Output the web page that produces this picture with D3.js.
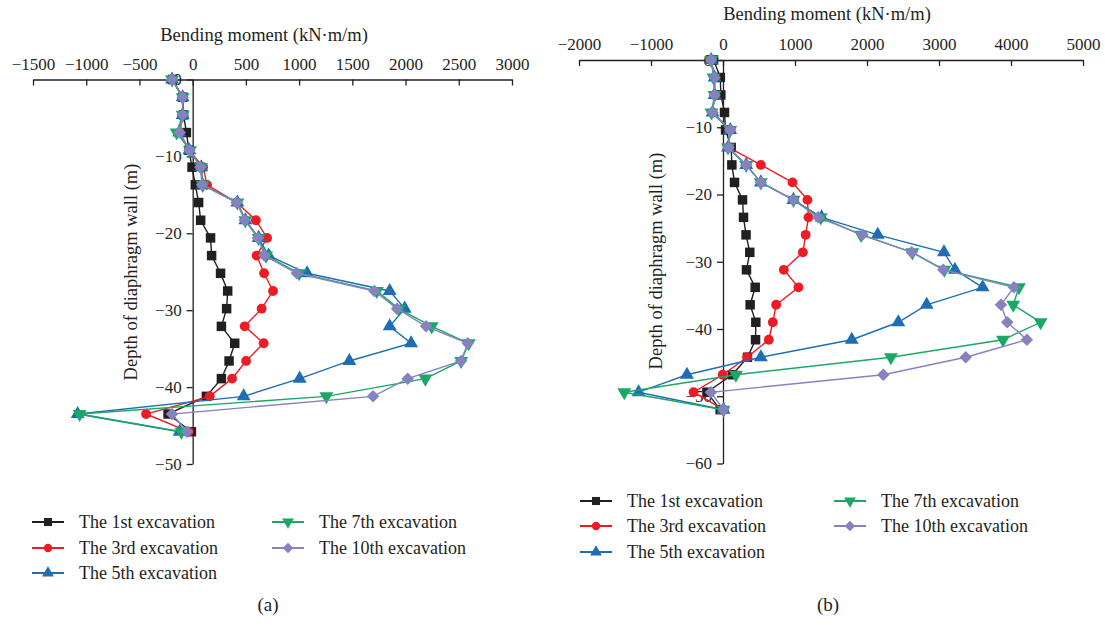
<!DOCTYPE html>
<html>
<head>
<meta charset="utf-8">
<script src="https://cdn.jsdelivr.net/npm/d3@7"></script>
<style>
  html, body { margin: 0; padding: 0; background: #fff; }
  svg text { font-family: "Liberation Serif", "DejaVu Serif", serif; fill: #231f20; }
</style>
</head>
<body>
<svg id="chart" width="1105" height="625"></svg>
<script>
// ---------- Data ----------
const seriesNames = ["The 1st excavation", "The 3rd excavation", "The 5th excavation", "The 7th excavation", "The 10th excavation"];
const seriesColors = ["#231f20", "#ed1c24", "#1f6db5", "#1aa866", "#8682c0"];
const seriesSymbols = ["square", "circle", "triangleUp", "triangleDown", "diamond"];

// Panel (a)
const depthA = [0, -2.3, -4.6, -6.9, -9.2, -11.4, -13.7, -16.0, -18.3, -20.6, -22.9, -25.2, -27.5, -29.8, -32.1, -34.3, -36.6, -38.9, -41.2, -43.5, -45.8];
const a1st  = [-190, -92, -85, -59, -35, -6, 25, 56, 75, 168, 178, 262, 329, 319, 270, 395, 342, 270, 129, -231, -12];
const a3rd  = [-194, -94, -94, -122, -31, 98, 135, 413, 594, 699, 601, 671, 755, 648, 489, 667, 502, 370, 160, -438, -38];
const a5th  = [-194, -94, -94, -125, -31, 80, 94, 420, 495, 620, 714, 1075, 1851, 1992, 1851, 2052, 1472, 1005, 479, -1080, -122];
const a7th  = [-194, -94, -94, -150, -25, 80, 94, 420, 495, 620, 690, 1000, 1730, 1935, 2246, 2593, 2522, 2186, 1256, -1062, -106];
const a10th = [-194, -94, -94, -122, -31, 72, 88, 413, 489, 613, 674, 978, 1707, 1920, 2193, 2584, 2522, 2020, 1695, -194, -53];
const xTicksA = [-1500, -1000, -500, 0, 500, 1000, 1500, 2000, 2500, 3000];
const yTicksA = [0, -10, -20, -30, -40, -50];

// Panel (b)
const depthB = [0, -2.6, -5.2, -7.8, -10.4, -13.0, -15.6, -18.2, -20.8, -23.4, -26.0, -28.6, -31.2, -33.8, -36.4, -39.0, -41.6, -44.2, -46.8, -49.4, -52.0];
const b1st  = [-131, -37, -30, 21, 35, 114, 123, 160, 271, 285, 320, 372, 326, 447, 377, 456, 452, 340, 130, -223, -39];
const b3rd  = [-164, -117, -117, -145, 100, 77, 526, 965, 1173, 1187, 1148, 1109, 845, 1048, 738, 692, 636, 335, -4, -409, 7];
const b5th  = [-164, -117, -117, -145, 100, 70, 322, 526, 978, 1370, 2149, 3069, 3221, 3606, 2829, 2435, 1788, 526, -501, -1172, 7];
const b7th  = [-164, -131, -117, -160, 100, 70, 322, 526, 978, 1358, 1918, 2630, 3074, 4110, 4031, 4411, 3889, 2332, 179, -1371, 7];
const b10th = [-164, -117, -117, -145, 100, 77, 322, 526, 978, 1321, 1938, 2621, 3060, 4041, 3860, 3948, 4221, 3372, 2227, -168, 7];
const xTicksB = [-2000, -1000, 0, 1000, 2000, 3000, 4000, 5000];
const yTicksB = [0, -10, -20, -30, -40, -50, -60];

const xTitle = "Bending moment (kN\u00b7m/m)";
const yTitle = "Depth of diaphragm wall (m)";

// ---------- Drawing ----------
const svg = d3.select("#chart");
const TICK_FS = 17;
const TITLE_FS = 18.5;
const LEG_FS = 18;
const fmt = d3.format("d");

function symbolPath(kind) {
  if (kind === "square") return { d: d3.symbol(d3.symbolSquare, 90)(), rot: 0 };
  if (kind === "circle") return { d: d3.symbol(d3.symbolCircle, 76)(), rot: 0 };
  if (kind === "triangleUp") return { d: d3.symbol(d3.symbolTriangle, 84)(), rot: 0 };
  if (kind === "triangleDown") return { d: d3.symbol(d3.symbolTriangle, 84)(), rot: 180 };
  return { d: d3.symbol(d3.symbolSquare, 78)(), rot: 45 };
}

function drawPanel(cfg) {
  const x = d3.scaleLinear().domain(cfg.xDomain).range(cfg.xRange);
  const y = d3.scaleLinear().domain(cfg.yDomain).range(cfg.yRange);
  const g = svg.append("g");

  // X axis (top)
  const xa = g.append("g")
    .attr("transform", `translate(0,${y(0)})`)
    .call(d3.axisTop(x).tickValues(cfg.xTicks).tickFormat(fmt)
      .tickSizeInner(-6).tickSizeOuter(0).tickPadding(cfg.xPad));
  xa.selectAll("text").style("font-size", TICK_FS + "px").style("font-family", "Liberation Serif, serif");
  xa.selectAll("path, line").attr("stroke", "#231f20").attr("stroke-width", 1.3);

  // Y axis
  const ya = g.append("g")
    .attr("transform", `translate(${x(0)},0)`)
    .call(d3.axisLeft(y).tickValues(cfg.yTicks).tickFormat(fmt)
      .tickSizeInner(6).tickSizeOuter(0).tickPadding(5));
  ya.selectAll("text").style("font-size", TICK_FS + "px").style("font-family", "Liberation Serif, serif");
  ya.selectAll("path, line").attr("stroke", "#231f20").attr("stroke-width", 1.3);

  // Titles
  g.append("text").attr("x", cfg.xTitlePos[0]).attr("y", cfg.xTitlePos[1])
    .attr("text-anchor", "middle").style("font-size", TITLE_FS + "px").text(xTitle);
  g.append("text").attr("transform", `translate(${cfg.yTitlePos[0]},${cfg.yTitlePos[1]}) rotate(-90)`)
    .attr("text-anchor", "middle").style("font-size", TITLE_FS + "px").text(yTitle);

  // Series
  cfg.series.forEach((vals, si) => {
    const pts = vals.map((v, i) => [v, cfg.depth[i]]);
    const line = d3.line().x(d => x(d[0])).y(d => y(d[1]));
    g.append("path").attr("d", line(pts)).attr("fill", "none")
      .attr("stroke", seriesColors[si]).attr("stroke-width", 1.4);
    const sp = symbolPath(seriesSymbols[si]);
    g.append("g").selectAll("path").data(pts).join("path")
      .attr("d", sp.d)
      .attr("transform", d => `translate(${x(d[0])},${y(d[1])}) rotate(${sp.rot})`)
      .attr("fill", seriesColors[si]);
  });

  // Legend
  cfg.legendPos.forEach((p, si) => {
    const lg = g.append("g").attr("transform", `translate(${p[0]},${p[1]})`);
    lg.append("line").attr("x1", 0).attr("x2", 32).attr("y1", 0).attr("y2", 0)
      .attr("stroke", seriesColors[si]).attr("stroke-width", 2);
    const sp = symbolPath(seriesSymbols[si]);
    lg.append("path").attr("d", sp.d).attr("transform", `translate(16,0) rotate(${sp.rot}) scale(0.85)`)
      .attr("fill", seriesColors[si]);
    lg.append("text").attr("x", 47).attr("y", 0).attr("dy", "0.33em")
      .style("font-size", LEG_FS + "px").text(seriesNames[si]);
  });

  svg.append("text").attr("x", cfg.labelPos[0]).attr("y", cfg.labelPos[1])
    .attr("text-anchor", "middle").style("font-size", "19px").text(cfg.label);
}

drawPanel({
  depth: depthA,
  series: [a1st, a3rd, a5th, a7th, a10th],
  xDomain: [-1500, 3000], xRange: [33, 512],
  yDomain: [0, -50], yRange: [79.5, 464],
  xTicks: xTicksA, yTicks: yTicksA, xPad: 10,
  xTitlePos: [264, 41], yTitlePos: [137, 272],
  legendPos: [[32, 522], [32, 548], [32, 573], [272, 522], [272, 548]],
  label: "(a)", labelPos: [268, 611]
});

drawPanel({
  depth: depthB,
  series: [b1st, b3rd, b5th, b7th, b10th],
  xDomain: [-2000, 5000], xRange: [579, 1083],
  yDomain: [0, -60], yRange: [60, 463.5],
  xTicks: xTicksB, yTicks: yTicksB, xPad: 10,
  xTitlePos: [827, 20], yTitlePos: [662, 261],
  legendPos: [[580, 501], [580, 526], [580, 552], [834, 501], [834, 526]],
  label: "(b)", labelPos: [828, 611]
});
</script>
</body>
</html>
